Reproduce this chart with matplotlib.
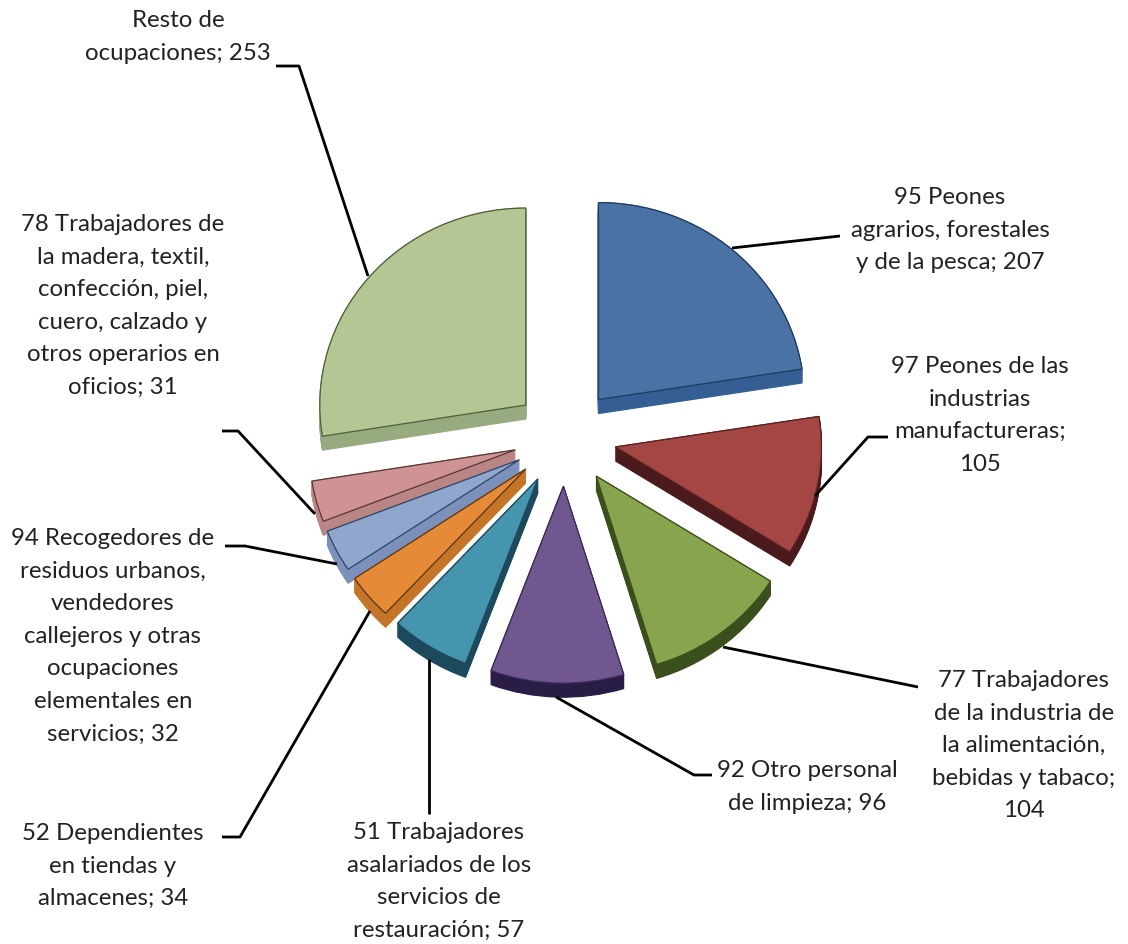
import matplotlib
matplotlib.use('Agg')
import numpy as np
import matplotlib.pyplot as plt
from matplotlib.patches import Wedge

plt.rcParams['font.family'] = ['Lato', 'DejaVu Sans']

# Data
names = ['95 Peones\nagrarios, forestales\ny de la pesca',
         '97 Peones de las\nindustrias\nmanufactureras;\n',
         '77 Trabajadores\nde la industria de\nla alimentación,\nbebidas y tabaco;\n',
         '92 Otro personal\nde limpieza',
         '51 Trabajadores\nasalariados de los\nservicios de\nrestauración',
         '52 Dependientes\nen tiendas y\nalmacenes',
         '94 Recogedores de\nresiduos urbanos,\nvendedores\ncallejeros y otras\nocupaciones\nelementales en\nservicios',
         '78 Trabajadores de\nla madera, textil,\nconfección, piel,\ncuero, calzado y\notros operarios en\noficios',
         'Resto de\nocupaciones']
values = [207, 105, 104, 96, 57, 34, 32, 31, 253]
top_colors = ['#4A72A5', '#A44644', '#88A44E', '#705790', '#4695AE',
              '#E58A36', '#8FA7CC', '#CF9393', '#B3C693']
side_colors = ['#355F94', '#4A1A1C', '#3A4F1C', '#2A1D45', '#1C4A5C',
               '#C47527', '#7B90BA', '#B98585', '#98AA80']
edge_colors = ['#1F3A5F', '#5A2020', '#3A4F1C', '#3A2A58', '#1C4A5C',
               '#5A3510', '#2F4468', '#5A3535', '#4F5F38']
explode = [0.25] * len(values)
draw_order = [8, 0, 1, 7, 6, 5, 2, 4, 3]

# Label placement in image pixels (centre x, centre y of first line)
label_pos = [(950, 197), (980, 366), (1024, 680), (807, 770), (439, 832),
             (113, 833), (113, 538), (123, 224), (178, 20)]
leaders = [[(732, 249), (840, 237)],
           [(888, 438), (868, 438), (815, 497)],
           [(723, 648), (918, 688)],
           [(556, 698), (694, 776), (712, 776)],
           [(429, 660), (429, 815)],
           [(370, 612), (240, 838), (222, 838)],
           [(337, 565), (245, 547), (225, 547)],
           [(315, 515), (238, 432), (222, 432)],
           [(276, 67), (299, 67), (368, 277)]]

W, H = 1128, 945
cx, cy = 565, 438
rx, ry = 206, 197
depth = 14 / ry

fig = plt.figure(figsize=(W / 100, H / 100), dpi=100)
ax = fig.add_axes([0, 0, 1, 1])
wedges, _ = ax.pie(values, explode=explode, startangle=90, counterclock=False,
                   radius=1, colors=top_colors)
ax.set_aspect('auto')
ax.set_xlim(-cx / rx, (W - cx) / rx)
ax.set_ylim(-(H - cy) / ry, cy / ry)
ax.axis('off')

# Fake the 3D look: stack darker copies of each slice below it
for z, i in enumerate(draw_order):
    w = wedges[i]
    w.set_zorder(10 * z + 5)
    w.set_edgecolor(edge_colors[i])
    w.set_linewidth(0.9)
    for d in np.linspace(depth, 0, 15):
        ax.add_patch(Wedge((w.center[0], w.center[1] - d), w.r, w.theta1, w.theta2,
                           facecolor=side_colors[i], edgecolor=side_colors[i],
                           linewidth=0.8, zorder=10 * z + 1))

# Overlay in image pixels for labels and leader lines
ov = fig.add_axes([0, 0, 1, 1], facecolor='none')
ov.set_xlim(0, W)
ov.set_ylim(H, 0)
ov.axis('off')

for line in leaders:
    xs, ys = zip(*line)
    ov.plot(xs, ys, color='black', lw=2.0, solid_capstyle='butt')

for name, val, (x, y) in zip(names, values, label_pos):
    sep = '' if name.endswith('\n') else '; '
    ov.text(x, y - 10, f'{name}{sep}{val}', ha='center', va='top',
            fontsize=17.3, color='#222222', linespacing=1.68)

fig.savefig('out.png', dpi=100)
